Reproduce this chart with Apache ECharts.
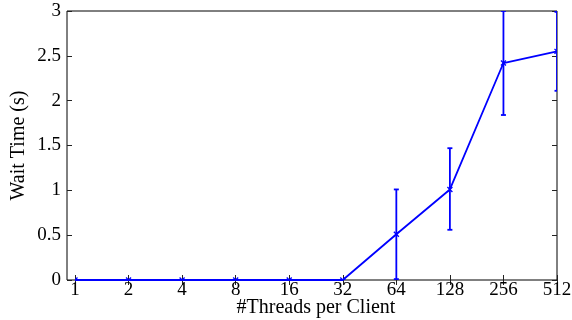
<!DOCTYPE html>
<html>
<head>
<meta charset="utf-8">
<script src="https://cdn.jsdelivr.net/npm/echarts@6/dist/echarts.min.js"></script>
<style>html,body{margin:0;padding:0;background:#fff;}#c{width:572px;height:320px;}</style>
</head>
<body>
<div id="c"></div>
<script>
var categories = ['1','2','4','8','16','32','64','128','256','512'];
var waitTime = [0, 0, 0, 0, 0, 0, 0.51, 1.01, 2.42, 2.55];
var errLow   = [0, 0, 0, 0, 0, 0, 0.01, 0.56, 1.84, 2.11];
var errHigh  = [0, 0, 0, 0, 0, 0, 1.01, 1.47, 3.00, 2.99];
var yTicks = [0, 0.5, 1, 1.5, 2, 2.5, 3];

var FONT = '"Liberation Serif", "Times New Roman", serif';
var BLUE = '#0000ff';

var errData = categories.map(function (c, i) { return [i, waitTime[i], errLow[i], errHigh[i]]; });

var chart = echarts.init(document.getElementById('c'), null, {renderer: 'canvas'});
chart.setOption({
  animation: false,
  backgroundColor: '#fff',
  grid: [
    {left: 75, right: 15, top: 11, bottom: 40, outerBoundsMode: 'none', containLabel: false},
    {left: 67, right: 15, top: 11, bottom: 40, outerBoundsMode: 'none', containLabel: false,
     show: true, borderColor: '#000', borderWidth: 1, backgroundColor: 'transparent'}
  ],
  xAxis: [
    {
      type: 'category', gridIndex: 0, data: categories, boundaryGap: false, position: 'bottom',
      axisLine: {show: false},
      axisTick: {show: true, inside: true, length: 5, lineStyle: {color: '#222'}},
      axisLabel: {color: '#000', fontFamily: FONT, fontSize: 19, margin: 1},
      splitLine: {show: false},
      name: '#Threads per Client', nameLocation: 'middle', nameGap: 18, nameMoveOverlap: false,
      nameTextStyle: {color: '#000', fontFamily: FONT, fontSize: 20, verticalAlign: 'top'}
    },
    {
      type: 'category', gridIndex: 0, data: categories, boundaryGap: false, position: 'top',
      axisLine: {show: false},
      axisTick: {show: true, inside: true, length: 5, lineStyle: {color: '#222'}},
      axisLabel: {show: false}, splitLine: {show: false}
    },
    {type: 'value', gridIndex: 1, show: false, min: 0, max: 1}
  ],
  yAxis: [
    {
      type: 'value', gridIndex: 0, min: yTicks[0], max: yTicks[yTicks.length - 1], interval: 0.5, position: 'left', offset: 8,
      axisLine: {show: false},
      axisTick: {show: true, inside: true, length: 5, lineStyle: {color: '#222'}},
      axisLabel: {color: '#000', fontFamily: FONT, fontSize: 19, margin: 6},
      splitLine: {show: false},
      name: 'Wait Time (s)', nameLocation: 'middle', nameGap: 38, nameMoveOverlap: false,
      nameTextStyle: {color: '#000', fontFamily: FONT, fontSize: 20}
    },
    {
      type: 'value', gridIndex: 0, min: yTicks[0], max: yTicks[yTicks.length - 1], interval: 0.5, position: 'right',
      axisLine: {show: false},
      axisTick: {show: true, inside: true, length: 5, lineStyle: {color: '#222'}},
      axisLabel: {show: false}, splitLine: {show: false}
    },
    {type: 'value', gridIndex: 1, show: false, min: 0, max: 1}
  ],
  series: [
    {
      type: 'line', xAxisIndex: 0, yAxisIndex: 0, data: waitTime,
      showSymbol: false, symbol: 'none',
      lineStyle: {color: BLUE, width: 1.8}, z: 3
    },
    {
      type: 'custom', xAxisIndex: 0, yAxisIndex: 0, data: errData, clip: true, z: 4,
      renderItem: function (params, api) {
        var x = api.value(0);
        var p = api.coord([x, api.value(1)]);
        var lo = api.coord([x, api.value(2)]);
        var hi = api.coord([x, api.value(3)]);
        var cw = 2.5, m = 2.5;
        var st = {stroke: BLUE, lineWidth: 1.8, fill: null};
        return {
          type: 'group',
          children: [
            {type: 'line', shape: {x1: lo[0], y1: lo[1], x2: hi[0], y2: hi[1]}, style: st},
            {type: 'line', shape: {x1: lo[0] - cw, y1: lo[1], x2: lo[0] + cw, y2: lo[1]}, style: st},
            {type: 'line', shape: {x1: hi[0] - cw, y1: hi[1], x2: hi[0] + cw, y2: hi[1]}, style: st},
            {type: 'line', shape: {x1: p[0] - m, y1: p[1] - m, x2: p[0] + m, y2: p[1] + m}, style: {stroke: BLUE, lineWidth: 1.3}},
            {type: 'line', shape: {x1: p[0] - m, y1: p[1] + m, x2: p[0] + m, y2: p[1] - m}, style: {stroke: BLUE, lineWidth: 1.3}}
          ]
        };
      }
    }
  ]
});
</script>
</body>
</html>
